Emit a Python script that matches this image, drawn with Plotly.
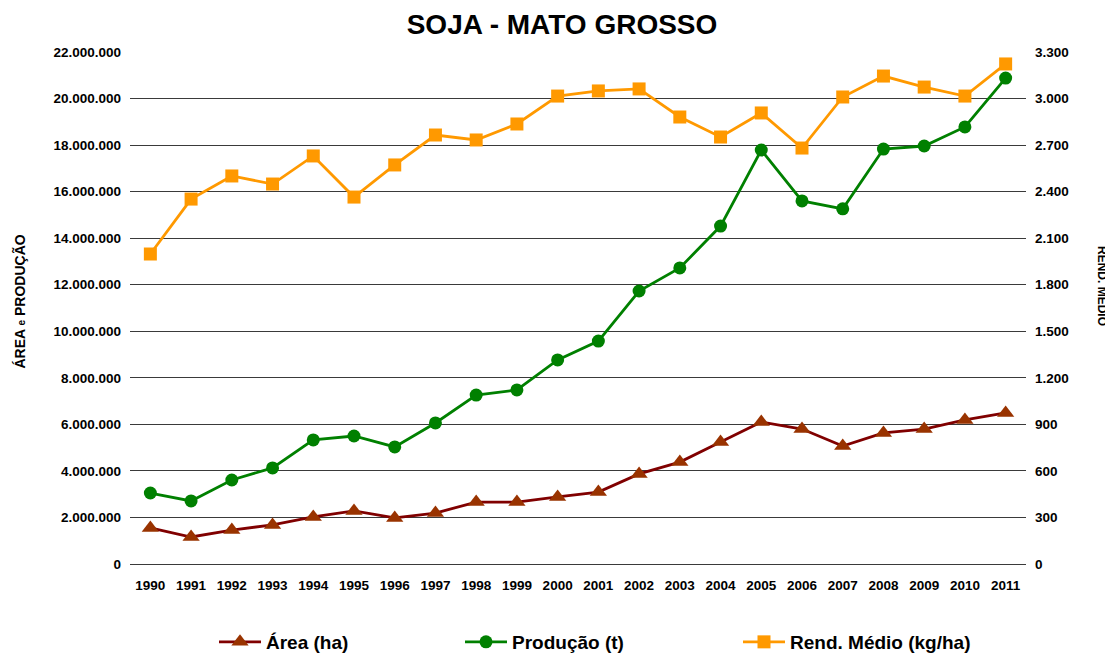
import plotly.graph_objects as go

years = [str(y) for y in range(1990, 2012)]
area = [1.55e6, 1.16e6, 1.46e6, 1.68e6, 2.02e6, 2.28e6, 1.98e6, 2.19e6, 2.66e6, 2.66e6, 2.88e6,
        3.09e6, 3.87e6, 4.38e6, 5.24e6, 6.10e6, 5.80e6, 5.07e6, 5.63e6, 5.80e6, 6.19e6, 6.49e6]
producao = [3.05e6, 2.71e6, 3.61e6, 4.13e6, 5.33e6, 5.50e6, 5.03e6, 6.06e6, 7.26e6, 7.48e6, 8.77e6,
            9.58e6, 11.73e6, 12.72e6, 14.52e6, 17.79e6, 15.60e6, 15.26e6, 17.83e6, 17.96e6, 18.78e6, 20.88e6]
rend = [1998, 2352, 2501, 2449, 2630, 2365, 2572, 2765, 2733, 2836, 3016,
        3049, 3062, 2881, 2752, 2907, 2681, 3010, 3145, 3074, 3016, 3223]

left_ticks = list(range(0, 22000001, 2000000))
right_ticks = list(range(0, 3301, 300))

FONT = "Liberation Sans, Arial, sans-serif"
TICKFONT = dict(size=13.5, family=FONT, color="black", weight="bold")
LEGFONT = dict(size=19, family=FONT, color="black", weight="bold")

# page body has an 8px margin: figure is drawn at (8, 8)
OFF = 8
W, H = 1113 - OFF, 653 - OFF

fig = go.Figure()
fig.add_trace(go.Scatter(x=years, y=area, name="Área (ha)", mode="lines+markers",
                         legend="legend", showlegend=True,
                         line=dict(color="#800000", width=2.8),
                         marker=dict(symbol="triangle-up", size=15, color="#993300")))
fig.add_trace(go.Scatter(x=years, y=producao, name="Produção (t)", mode="lines+markers",
                         legend="legend2", showlegend=True,
                         line=dict(color="#008000", width=2.8),
                         marker=dict(symbol="circle", size=13, color="#008000")))
fig.add_trace(go.Scatter(x=years, y=rend, name="Rend. Médio (kg/ha)", mode="lines+markers",
                         yaxis="y2", legend="legend3", showlegend=True,
                         line=dict(color="#FF9900", width=2.8),
                         marker=dict(symbol="square", size=13, color="#FF9900")))

leg_common = dict(orientation="h", yref="container", y=1 - (642 - OFF) / H, yanchor="middle",
                  xref="container", xanchor="left",
                  font=LEGFONT, bgcolor="rgba(0,0,0,0)", itemwidth=42)

fig.update_layout(
    width=W, height=H,
    showlegend=True,
    paper_bgcolor="white", plot_bgcolor="white",
    separators=",.",
    margin=dict(l=130 - OFF, r=87, t=52 - OFF, b=89, autoexpand=False),
    font=dict(family=FONT, color="black"),
    title=dict(text="<b>SOJA - MATO GROSSO</b>", x=(562 - OFF) / W, xanchor="center",
               y=1 - (24 - OFF) / H, yanchor="middle",
               font=dict(size=28, family=FONT, color="black")),
    xaxis=dict(type="category", range=[-0.5, 21.5], showgrid=False, showline=False,
               ticks="", ticklabelstandoff=11, tickfont=TICKFONT, automargin=False),
    yaxis=dict(range=[0, 22000000], tickvals=left_ticks, tickformat=",d", showgrid=True,
               gridcolor="#3a3a3a", gridwidth=1, zeroline=True, zerolinecolor="#3a3a3a",
               zerolinewidth=1, showline=False, ticks="", ticklabelstandoff=8, tickfont=TICKFONT,
               automargin=False),
    yaxis2=dict(range=[0, 3300], tickvals=right_ticks, tickformat=",d", overlaying="y", side="right",
                showgrid=False, zeroline=False, showline=False, ticks="", ticklabelstandoff=8,
                tickfont=TICKFONT, automargin=False),
    legend=dict(x=(214 - OFF) / W, **leg_common),
    legend2=dict(x=(460 - OFF) / W, **leg_common),
    legend3=dict(x=(738 - OFF) / W, **leg_common),
    annotations=[
        dict(text="<b>ÁREA <span style='font-size:10px'>e</span> PRODUÇÃO</b>", xref="paper", yref="paper",
             x=(18.5 - 130) / 896, y=(564 - 302) / 512, xanchor="center", yanchor="middle",
             textangle=-90, showarrow=False,
             font=dict(size=14, family=FONT, color="black")),
        dict(text="<b>REND. MÉDIO</b>", xref="paper", yref="paper",
             x=(1103 - 130) / 896, y=(564 - 286) / 512, xanchor="center", yanchor="middle",
             textangle=90, showarrow=False,
             font=dict(size=12, family=FONT, color="black")),
    ],
)

fig.write_html("out.html")
